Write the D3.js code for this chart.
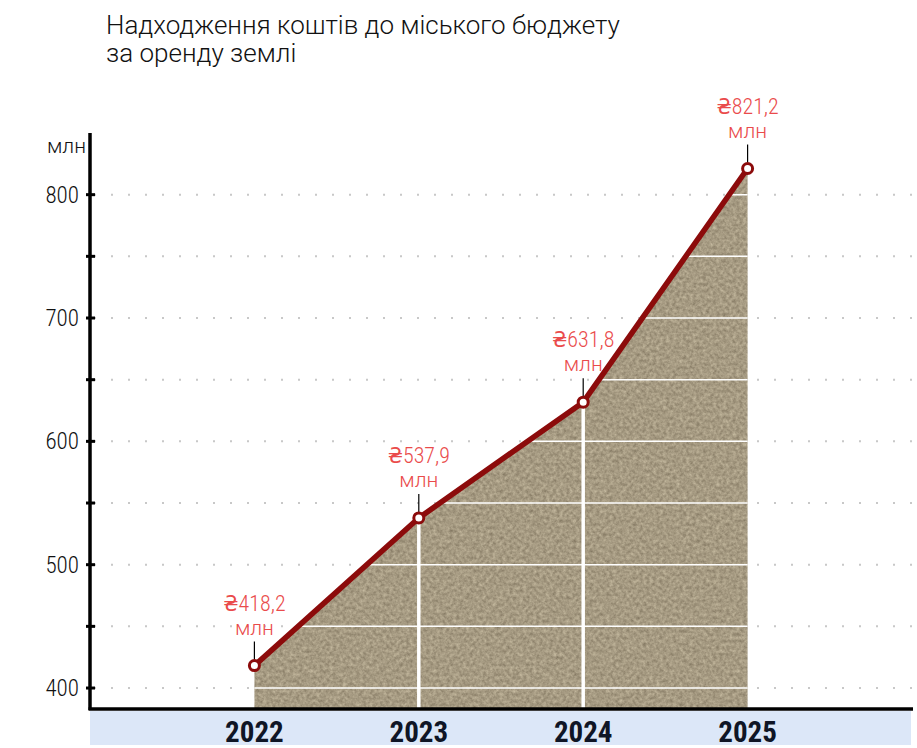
<!DOCTYPE html>
<html>
<head>
<meta charset="utf-8">
<script src="https://cdn.jsdelivr.net/npm/d3@7"></script>
<style>
  body { margin: 0; background: #fff; }
  svg text { font-family: "Roboto Condensed", "DejaVu Sans Condensed", "Liberation Sans Narrow", Roboto, sans-serif; }
  svg text.wide { font-family: Roboto, "Noto Sans", sans-serif; }
</style>
</head>
<body>
<svg id="chart" width="917" height="748"></svg>
<script>
// data
var years = ["2022", "2023", "2024", "2025"];
var values = [418.2, 537.9, 631.8, 821.2];
var valueLabels = ["₴418,2", "₴537,9", "₴631,8", "₴821,2"];
var yTicks = [400, 500, 600, 700, 800];
var gridLevels = [400, 450, 500, 550, 600, 650, 700, 750, 800];
var titleLines = ["Надходження коштів до міського бюджету", "за оренду землі"];
var unitLabel = "млн";

var config = {
    lineColor: "#8c0b0b",
    labelColor: "#ea4b4b",
    bandColor: "#dce7f8"
};

var width = 917, height = 748;
var margin = { left: 90, right: 5, top: 133, bottom: 39 };
var axisY = height - margin.bottom;

var svg = d3.select("#chart");

var x = d3.scalePoint()
    .domain(years)
    .range([margin.left, width - margin.right])
    .padding(1);

var y = d3.scaleLinear()
    .domain([383, 850])
    .range([axisY, margin.top]);

var data = years.map(function(d, i) { return { year: d, value: values[i], label: valueLabels[i] }; });

// texture filter for the area
var defs = svg.append("defs");
var filt = defs.append("filter").attr("id", "sand")
    .attr("color-interpolation-filters", "sRGB")
    .attr("x", 0).attr("y", 0).attr("width", 1).attr("height", 1);
filt.append("feTurbulence")
    .attr("type", "fractalNoise")
    .attr("baseFrequency", 0.3)
    .attr("numOctaves", 4)
    .attr("seed", 7)
    .attr("result", "noise");
filt.append("feColorMatrix")
    .attr("in", "noise")
    .attr("type", "matrix")
    .attr("values", "0.30 0 0 0 0.50  0.30 0 0 0 0.455  0.28 0 0 0 0.37  0 0 0 0 1")
    .attr("result", "tex");
filt.append("feComposite")
    .attr("in", "tex").attr("in2", "SourceGraphic").attr("operator", "in");

defs.append("clipPath").attr("id", "areaClip")
    .append("path")
    .attr("d", d3.area()
        .x(function(d) { return x(d.year); })
        .y0(axisY)
        .y1(function(d) { return y(d.value); })(data));

// bottom band
svg.append("rect")
    .attr("x", margin.left)
    .attr("y", axisY + 2)
    .attr("width", x.range()[1] - margin.left - 1)
    .attr("height", 34)
    .attr("fill", config.bandColor);

// dotted gridlines
svg.selectAll(".grid")
    .data(gridLevels)
    .enter()
    .append("line")
    .attr("class", "grid")
    .attr("x1", margin.left + 4)
    .attr("x2", width - 5)
    .attr("y1", function(d) { return y(d); })
    .attr("y2", function(d) { return y(d); })
    .attr("stroke", "#c8c8c8")
    .attr("stroke-width", 2)
    .attr("stroke-dasharray", "2,15");

// area
var areaGen = d3.area()
    .x(function(d) { return x(d.year); })
    .y0(axisY)
    .y1(function(d) { return y(d.value); });

svg.append("path")
    .datum(data)
    .attr("d", areaGen)
    .attr("fill", "#a0917a")
    .attr("filter", "url(#sand)");

// white lines inside area
var inner = svg.append("g").attr("clip-path", "url(#areaClip)");
inner.selectAll(".hgrid")
    .data(gridLevels)
    .enter()
    .append("line")
    .attr("x1", margin.left)
    .attr("x2", width)
    .attr("y1", function(d) { return y(d); })
    .attr("y2", function(d) { return y(d); })
    .attr("stroke", "#ffffff")
    .attr("stroke-width", 1.5);

svg.selectAll(".vline")
    .data(data.slice(1, -1))
    .enter()
    .append("line")
    .attr("x1", function(d) { return x(d.year); })
    .attr("x2", function(d) { return x(d.year); })
    .attr("y1", function(d) { return y(d.value); })
    .attr("y2", axisY)
    .attr("stroke", "#ffffff")
    .attr("stroke-width", 3.5);

// y axis
svg.append("line")
    .attr("x1", margin.left).attr("x2", margin.left)
    .attr("y1", margin.top).attr("y2", axisY + 1)
    .attr("stroke", "#000").attr("stroke-width", 3.5);

svg.selectAll(".tick")
    .data(gridLevels)
    .enter()
    .append("line")
    .attr("x1", margin.left - 4)
    .attr("x2", margin.left + 5)
    .attr("y1", function(d) { return y(d); })
    .attr("y2", function(d) { return y(d); })
    .attr("stroke", "#000")
    .attr("stroke-width", 3);

svg.selectAll(".ylab")
    .data(yTicks)
    .enter()
    .append("text")
    .attr("x", margin.left - 11)
    .attr("y", function(d) { return y(d) + 8; })
    .attr("text-anchor", "end")
    .style("font-size", "23px")
    .style("font-weight", "300")
    .attr("fill", "#111")
    .text(function(d) { return d; });

svg.append("text")
    .attr("class", "wide")
    .attr("x", margin.left - 4)
    .attr("y", margin.top + 20)
    .attr("text-anchor", "end")
    .style("font-size", "21px")
    .style("font-weight", "300")
    .attr("fill", "#111")
    .text(unitLabel);

// x axis
svg.append("line")
    .attr("x1", margin.left - 1.5).attr("x2", width - 4)
    .attr("y1", axisY).attr("y2", axisY)
    .attr("stroke", "#000").attr("stroke-width", 3.5);

svg.selectAll(".xlab")
    .data(years)
    .enter()
    .append("text")
    .attr("x", function(d) { return x(d); })
    .attr("y", axisY + 33)
    .attr("text-anchor", "middle")
    .style("font-size", "29px")
    .style("font-weight", "bold")
    .attr("fill", "#0f1526")
    .text(function(d) { return d; });

// line
svg.append("path")
    .datum(data)
    .attr("d", d3.line().x(function(d) { return x(d.year); }).y(function(d) { return y(d.value); }))
    .attr("fill", "none")
    .attr("stroke", config.lineColor)
    .attr("stroke-width", 5.5)
    .attr("stroke-linejoin", "round");

// leaders + labels
var lab = svg.selectAll(".vlabel")
    .data(data)
    .enter()
    .append("g")
    .attr("transform", function(d) { return `translate(${x(d.year)},${y(d.value)})`; });

lab.append("line")
    .attr("x1", 0).attr("x2", 0)
    .attr("y1", -24).attr("y2", -6)
    .attr("stroke", "#000").attr("stroke-width", 1.2);

lab.append("text")
    .attr("y", -55)
    .attr("text-anchor", "middle")
    .style("font-size", "22px")
    .style("font-weight", "300")
    .attr("fill", config.labelColor)
    .text(function(d) { return d.label; });

lab.append("text")
    .attr("class", "wide")
    .attr("y", -31)
    .attr("text-anchor", "middle")
    .style("font-size", "21px")
    .style("font-weight", "300")
    .attr("fill", config.labelColor)
    .text(unitLabel);

lab.append("circle")
    .attr("r", 5)
    .attr("fill", "#fff")
    .attr("stroke", config.lineColor)
    .attr("stroke-width", 3);

// title
svg.append("text")
    .attr("class", "wide")
    .attr("x", 106)
    .attr("y", 34)
    .style("font-size", "26px")
    .style("font-weight", "300")
    .attr("fill", "#111")
    .selectAll("tspan")
    .data(titleLines)
    .enter()
    .append("tspan")
    .attr("x", 106)
    .attr("dy", function(d, i) { return i ? 28 : 0; })
    .text(function(d) { return d; });
</script>
</body>
</html>
